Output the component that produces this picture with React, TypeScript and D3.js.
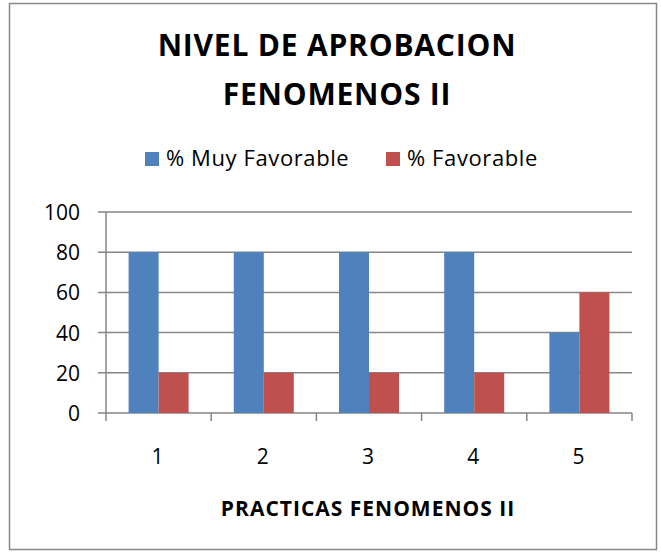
import React from "react";
import * as d3 from "d3";

const categories = ["1", "2", "3", "4", "5"];
const muyFavorable = [80, 80, 80, 80, 40];
const favorable = [20, 20, 20, 20, 60];
const yTicks = [0, 20, 40, 60, 80, 100];
const seriesNames = ["% Muy Favorable", "% Favorable"];
const colors = ["#4F81BD", "#C0504D"];

const W = 661, H = 554;
const left = 106, right = 632, top = 212, bottom = 413;
const font = "'Open Sans', sans-serif";

export default function App() {
  const x = d3.scaleBand<string>().domain(categories).range([left, right]);
  const y = d3.scaleLinear().domain([0, 100]).range([bottom, top]);
  const barW = 30;
  const series = [muyFavorable, favorable];
  return (
    <svg width={W} height={H} style={{ position: "absolute", left: 0, top: 0 }}>
      <rect x={9.5} y={3.5} width={647} height={546} fill="#fff" stroke="#888" strokeWidth={1.5} />
      <text x={337} y={56} textAnchor="middle" fontFamily={font} fontWeight="bold" fontSize={30} letterSpacing={0.8} fill="#000">NIVEL DE APROBACION</text>
      <text x={337} y={105} textAnchor="middle" fontFamily={font} fontWeight="bold" fontSize={30} letterSpacing={0.8} fill="#000">FENOMENOS II</text>
      {/* legend */}
      <rect x={145} y={152} width={14} height={14} fill={colors[0]} />
      <text x={166} y={166} fontFamily={font} fontSize={22} letterSpacing={0.6} fill="#000">{seriesNames[0]}</text>
      <rect x={386} y={152} width={14} height={14} fill={colors[1]} />
      <text x={407} y={166} fontFamily={font} fontSize={22} letterSpacing={0.6} fill="#000">{seriesNames[1]}</text>
      {/* gridlines */}
      {yTicks.map((t) => (
        <g key={t}>
          <line x1={98} x2={right} y1={y(t)} y2={y(t)} stroke="#868686" strokeWidth={1.5} />
          <text x={80} y={y(t) + 8} textAnchor="end" fontFamily={font} fontSize={21} fill="#000">{t}</text>
        </g>
      ))}
      <line x1={left} x2={left} y1={top} y2={bottom} stroke="#868686" strokeWidth={1.5} />
      {categories.map((c) => (
        <line key={c} x1={x(c)! + x.bandwidth()} x2={x(c)! + x.bandwidth()} y1={bottom} y2={bottom + 8} stroke="#868686" strokeWidth={1.5} />
      ))}
      <line x1={left} x2={left} y1={bottom} y2={bottom + 8} stroke="#868686" strokeWidth={1.5} />
      {/* bars */}
      {series.map((vals, s) =>
        vals.map((v, i) => {
          const cx = x(categories[i])! + x.bandwidth() / 2;
          return (
            <rect key={`${s}-${i}`} x={cx - barW + s * barW} y={y(v)} width={barW} height={bottom - y(v)} fill={colors[s]} />
          );
        })
      )}
      {categories.map((c) => (
        <text key={c} x={x(c)! + x.bandwidth() / 2 - 1} y={464} textAnchor="middle" fontFamily={font} fontSize={21} fill="#000">{c}</text>
      ))}
      <text x={368} y={516} textAnchor="middle" fontFamily={font} fontWeight="bold" fontSize={21} letterSpacing={1} fill="#000">PRACTICAS FENOMENOS II</text>
    </svg>
  );
}
